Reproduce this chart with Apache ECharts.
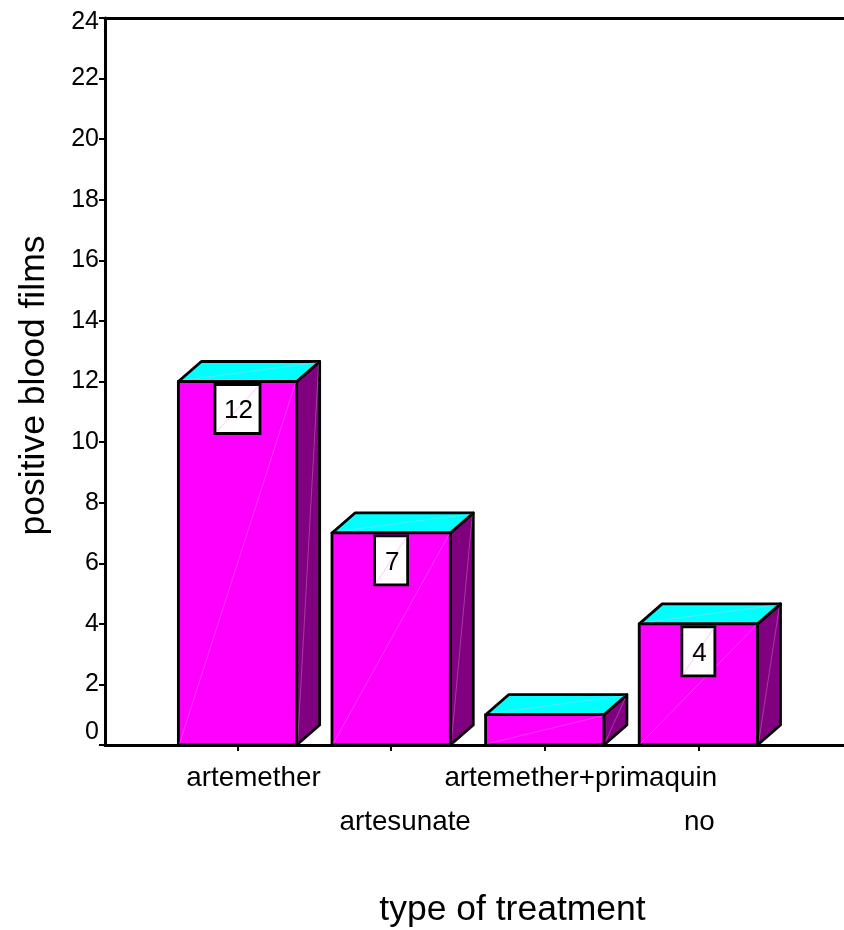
<!DOCTYPE html>
<html>
<head>
<meta charset="utf-8">
<style>html,body{margin:0;padding:0;background:#fff}#c{width:844px;height:930px}</style>
<script src="https://cdn.jsdelivr.net/npm/echarts@6/dist/echarts.min.js"></script>
</head>
<body>
<div id="c"></div>
<script>
const categories = ['artemether', 'artesunate', 'artemether+primaquin', 'no'];
const values = [12, 7, 1, 4];
const barLabels = ['12', '7', '', '4'];
const yTicks = [0, 2, 4, 6, 8, 10, 12, 14, 16, 18, 20, 22, 24];

const FONT = '"Liberation Sans", Arial, sans-serif';
const DX = 23, DY = 20, BAR_UNITS = 0.77, TXT = '#000';
const labelShift = [16, 14, 36, 1];
const labelDrop = [0, 44, 0, 44];

const rich = {};
categories.forEach((c, i) => {
  rich['c' + i] = {
    fontFamily: FONT, fontSize: 27.8, color: TXT,
    padding: [labelDrop[i], 0, 0, labelShift[i] * 2]
  };
});

const chart = echarts.init(document.getElementById('c'), null, {renderer: 'canvas'});
const xRange = {min: -0.8626, max: 3.948};

function renderBar(params, api) {
  const i = api.value(0), v = api.value(1);
  const top = api.coord([i, v]), base = api.coord([i, 0]);
  const half = api.size([BAR_UNITS, 0])[0] / 2;
  const x0 = top[0] - half, x1 = top[0] + half, yt = top[1], yb = base[1];
  const edge = {stroke: '#000', lineWidth: 2.8, lineJoin: 'round'};
  const hair = {stroke: 'rgba(255,190,255,0.3)', lineWidth: 1, fill: null};
  const children = [
    {type: 'polygon', shape: {points: [[x1, yt], [x1 + DX, yt - DY], [x1 + DX, yb - DY], [x1, yb]]}, style: {fill: '#800080', ...edge}},
    {type: 'line', shape: {x1: x1 + 1, y1: yb - 2, x2: x1 + DX - 1, y2: yt - DY + 2}, style: hair},
    {type: 'polygon', shape: {points: [[x0, yt], [x0 + DX, yt - DY], [x1 + DX, yt - DY], [x1, yt]]}, style: {fill: '#00ffff', ...edge}},
    {type: 'line', shape: {x1: x0 + 2, y1: yt - 1, x2: x1 + DX - 2, y2: yt - DY + 1}, style: hair},
    {type: 'rect', shape: {x: x0, y: yt, width: x1 - x0, height: yb - yt}, style: {fill: '#ff00ff', ...edge}},
    {type: 'line', shape: {x1: x0 + 1, y1: yb - 1, x2: x1 - 1, y2: yt + 1}, style: hair}
  ];
  const text = barLabels[params.dataIndex];
  if (text) {
    const w = text.length > 1 ? 45 : 33, h = 49, by = yt + 3, bx = top[0] - w / 2;
    children.push(
      {type: 'rect', shape: {x: bx, y: by, width: w, height: h}, style: {fill: '#fff', stroke: '#000', lineWidth: 2.8}},
      {type: 'line', shape: {x1: bx + 1, y1: by + h - 1, x2: bx + w - 1, y2: by + 1}, style: {stroke: 'rgba(255,150,255,0.55)', lineWidth: 1}},
      {type: 'text', style: {x: top[0] + 1, y: by + h / 2 + 2, text: text, align: 'center', verticalAlign: 'middle', fontFamily: FONT, fontSize: 26, fill: TXT}}
    );
  }
  return {type: 'group', children: children};
}

chart.setOption({
  animation: false,
  backgroundColor: '#fff',
  grid: {left: 105, right: 0, top: 18, bottom: 185, containLabel: false, outerBoundsMode: 'none'},
  xAxis: [{
    type: 'value', ...xRange, position: 'bottom',
    splitLine: {show: false},
    axisLine: {show: true, onZero: false, lineStyle: {color: '#000', width: 3}},
    axisTick: {show: true, customValues: categories.map((c, i) => i), length: 6, lineStyle: {color: '#000', width: 2}},
    axisLabel: {
      customValues: categories.map((c, i) => i), margin: 19, hideOverlap: false,
      showMinLabel: true, showMaxLabel: true,
      formatter: v => '{c' + v + '|' + categories[v] + '}', rich: rich
    },
    name: 'type of treatment', nameLocation: 'middle', nameGap: 147,
    nameTextStyle: {fontFamily: FONT, fontSize: 35.5, color: TXT, padding: [0, 0, 0, 76]}
  }, {
    type: 'value', ...xRange, position: 'top',
    splitLine: {show: false}, axisTick: {show: false}, axisLabel: {show: false},
    axisLine: {show: true, onZero: false, lineStyle: {color: '#000', width: 3}}
  }],
  yAxis: {
    type: 'value', min: 0, max: 24, interval: 2,
    splitLine: {show: false},
    axisLine: {show: true, onZero: false, lineStyle: {color: '#000', width: 3}},
    axisTick: {show: true, length: 6, lineStyle: {color: '#000', width: 2}},
    axisLabel: {
      margin: 6, fontFamily: FONT, fontSize: 25, color: TXT, hideOverlap: false,
      showMinLabel: true, showMaxLabel: true,
      formatter: v => v === yTicks[0] ? '{low|' + v + '}' : v === yTicks[yTicks.length - 1] ? '{high|' + v + '}' : String(v),
      rich: {
        low: {fontFamily: FONT, fontSize: 25, color: TXT, padding: [0, 0, 26, 0]},
        high: {fontFamily: FONT, fontSize: 25, color: TXT, padding: [9, 0, 0, 0]}
      }
    },
    name: 'positive blood films', nameLocation: 'middle', nameGap: 53,
    nameTextStyle: {fontFamily: FONT, fontSize: 35.5, color: TXT, padding: [0, 8, 0, 0]}
  },
  series: [{
    type: 'custom', coordinateSystem: 'cartesian2d', xAxisIndex: 0, yAxisIndex: 0, clip: false,
    encode: {x: 0, y: 1},
    data: values.map((v, i) => [i, v]),
    renderItem: renderBar
  }]
});
</script>
</body>
</html>
